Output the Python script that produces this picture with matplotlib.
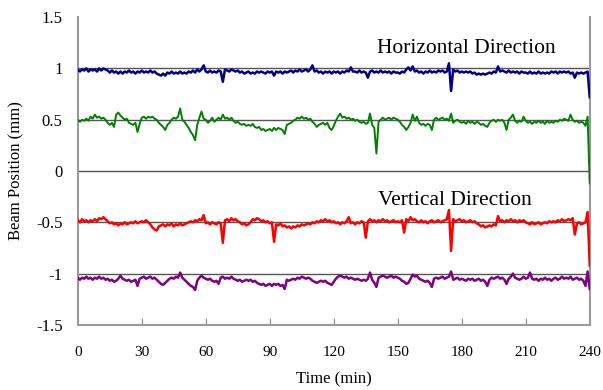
import numpy as np
import matplotlib
matplotlib.use("Agg")
import matplotlib.pyplot as plt

plt.rcParams['font.family'] = ['Liberation Serif', 'DejaVu Serif']

# time axis: one reading per minute, 0..240 min
time_min = np.arange(0, 241)

# horizontal direction, upper trace (~1 mm)
horiz_upper = [
    0.99, 0.97, 0.99, 0.98, 1.00, 0.97, 0.99, 0.98, 0.99, 0.97,
    1.00, 0.98, 1.00, 0.99, 0.98, 0.96, 0.98, 0.96, 0.97, 0.95,
    0.97, 0.95, 0.97, 0.96, 0.98, 0.96, 0.97, 0.95, 0.97, 0.96,
    0.98, 0.96, 0.97, 0.96, 0.98, 0.96, 0.97, 0.95, 0.94, 0.93,
    0.95, 0.93, 0.96, 0.95, 0.97, 0.95, 0.96, 0.95, 0.97, 0.95,
    0.96, 0.95, 0.97, 0.96, 0.98, 0.96, 0.99, 0.97, 0.99, 1.03,
    0.97, 0.96, 0.98, 0.96, 0.97, 0.96, 0.98, 0.97, 0.87, 0.99,
    0.98, 0.97, 0.99, 0.98, 0.97, 0.98, 0.96, 0.97, 0.95, 0.96,
    0.97, 0.95, 0.96, 0.95, 0.97, 0.96, 0.97, 0.96, 0.95, 0.97,
    0.96, 0.97, 0.93, 0.97, 0.96, 0.97, 0.95, 0.97, 0.96, 0.97,
    0.98, 0.96, 0.98, 0.97, 0.99, 0.97, 0.98, 0.99, 0.97, 0.99,
    1.03, 0.97, 0.98, 0.96, 0.97, 0.95, 0.97, 0.96, 0.97, 0.95,
    0.97, 0.96, 0.97, 0.95, 0.97, 0.96, 0.98, 0.97, 1.01, 0.97,
    0.97, 0.96, 0.98, 0.96, 0.97, 0.96, 0.91, 0.97, 0.98, 0.96,
    0.97, 0.96, 0.98, 0.96, 0.97, 0.96, 0.97, 0.95, 0.97, 0.96,
    0.96, 0.95, 0.97, 0.96, 0.99, 1.01, 0.98, 1.02, 0.97, 0.98,
    0.96, 0.97, 0.95, 0.97, 0.96, 0.98, 0.96, 0.97, 0.96, 0.98,
    0.97, 0.98, 0.96, 0.97, 1.05, 0.78, 0.99, 0.97, 0.98, 0.96,
    0.97, 0.96, 0.97, 0.96, 0.97, 0.95, 0.96, 0.94, 0.95, 0.94,
    0.95, 0.94, 0.95, 0.96, 0.95, 0.97, 0.96, 1.02, 0.97, 0.98,
    0.97, 0.96, 0.98, 0.96, 0.97, 0.96, 0.97, 0.95, 0.97, 0.96,
    0.96, 0.95, 0.97, 0.95, 0.96, 0.95, 0.97, 0.95, 0.96, 0.95,
    0.96, 0.95, 0.97, 0.96, 0.97, 0.95, 0.97, 0.96, 0.97, 0.96,
    0.97, 0.95, 0.96, 0.91, 0.96, 0.95, 0.96, 0.95, 0.96, 0.97,
    0.72,
]

# horizontal direction, lower trace (~0.5 mm)
horiz_lower = [
    0.50, 0.48, 0.50, 0.49, 0.51, 0.49, 0.53, 0.51, 0.55, 0.52,
    0.53, 0.51, 0.52, 0.50, 0.47, 0.45, 0.47, 0.43, 0.55, 0.57,
    0.54, 0.52, 0.50, 0.51, 0.47, 0.46, 0.45, 0.47, 0.38, 0.46,
    0.52, 0.53, 0.51, 0.53, 0.52, 0.53, 0.51, 0.50, 0.47, 0.45,
    0.43, 0.40, 0.45, 0.47, 0.50, 0.52, 0.51, 0.53, 0.61, 0.50,
    0.48, 0.45, 0.42, 0.38, 0.35, 0.30, 0.45, 0.52, 0.58, 0.51,
    0.50, 0.47, 0.49, 0.52, 0.48, 0.50, 0.52, 0.50, 0.55, 0.51,
    0.52, 0.50, 0.52, 0.49, 0.47, 0.48, 0.46, 0.45, 0.46, 0.44,
    0.45, 0.44, 0.46, 0.43, 0.42, 0.43, 0.40, 0.41, 0.39, 0.40,
    0.41, 0.39, 0.42, 0.40, 0.42, 0.41, 0.40, 0.36, 0.45, 0.46,
    0.47, 0.49, 0.50, 0.52, 0.51, 0.53, 0.51, 0.52, 0.50, 0.51,
    0.48, 0.46, 0.43, 0.45, 0.46, 0.47, 0.45, 0.47, 0.42, 0.40,
    0.44, 0.49, 0.53, 0.56, 0.52, 0.53, 0.51, 0.52, 0.50, 0.51,
    0.49, 0.50, 0.48, 0.47, 0.48, 0.46, 0.47, 0.56, 0.45, 0.42,
    0.17, 0.48, 0.50, 0.52, 0.50, 0.51, 0.52, 0.50, 0.52, 0.51,
    0.50, 0.48, 0.45, 0.43, 0.40, 0.43, 0.47, 0.55, 0.49, 0.53,
    0.47, 0.45, 0.46, 0.44, 0.46, 0.45, 0.40, 0.50, 0.52, 0.50,
    0.51, 0.52, 0.50, 0.51, 0.49, 0.56, 0.47, 0.49, 0.50, 0.48,
    0.47, 0.48, 0.46, 0.49, 0.47, 0.48, 0.46, 0.48, 0.47, 0.45,
    0.46, 0.44, 0.43, 0.47, 0.49, 0.50, 0.48, 0.50, 0.49, 0.50,
    0.47, 0.40, 0.50, 0.52, 0.55, 0.49, 0.47, 0.49, 0.48, 0.53,
    0.49, 0.47, 0.48, 0.46, 0.48, 0.47, 0.49, 0.47, 0.48, 0.46,
    0.49, 0.47, 0.48, 0.47, 0.49, 0.48, 0.50, 0.49, 0.51, 0.50,
    0.49, 0.55, 0.50, 0.48, 0.49, 0.47, 0.48, 0.47, 0.44, 0.53,
    -0.12,
]

# vertical direction, upper trace (~-0.5 mm)
vert_upper = [
    -0.48, -0.50, -0.47, -0.49, -0.48, -0.50, -0.48, -0.49, -0.47, -0.49,
    -0.46, -0.47, -0.45, -0.47, -0.49, -0.51, -0.50, -0.52, -0.51, -0.53,
    -0.51, -0.52, -0.50, -0.52, -0.51, -0.50, -0.51, -0.49, -0.51, -0.50,
    -0.49, -0.50, -0.48, -0.50, -0.52, -0.55, -0.57, -0.58, -0.54, -0.53,
    -0.52, -0.54, -0.52, -0.53, -0.51, -0.54, -0.52, -0.53, -0.51, -0.53,
    -0.52, -0.51, -0.50, -0.49, -0.50, -0.48, -0.49, -0.47, -0.48, -0.43,
    -0.51, -0.50, -0.52, -0.50, -0.51, -0.52, -0.50, -0.51, -0.70, -0.48,
    -0.47, -0.49, -0.46, -0.48, -0.47, -0.49, -0.50, -0.52, -0.51, -0.53,
    -0.52, -0.50, -0.47, -0.48, -0.46, -0.47, -0.49, -0.48, -0.50, -0.49,
    -0.51, -0.50, -0.69, -0.52, -0.53, -0.51, -0.54, -0.53, -0.55, -0.54,
    -0.56, -0.54, -0.55, -0.53, -0.54, -0.52, -0.53, -0.52, -0.51, -0.52,
    -0.50, -0.51, -0.49, -0.50, -0.48, -0.49, -0.47, -0.49, -0.48, -0.50,
    -0.49, -0.51, -0.50, -0.52, -0.50, -0.51, -0.49, -0.45, -0.51, -0.50,
    -0.52, -0.50, -0.51, -0.49, -0.50, -0.65, -0.49, -0.47, -0.49, -0.48,
    -0.50, -0.48, -0.49, -0.47, -0.49, -0.48, -0.50, -0.49, -0.48, -0.50,
    -0.49, -0.50, -0.48, -0.60, -0.47, -0.49, -0.45, -0.48, -0.47, -0.49,
    -0.50, -0.48, -0.50, -0.49, -0.51, -0.49, -0.48, -0.50, -0.49, -0.48,
    -0.50, -0.49, -0.48, -0.47, -0.38, -0.78, -0.47, -0.49, -0.48, -0.47,
    -0.49, -0.48, -0.50, -0.49, -0.48, -0.50, -0.49, -0.51, -0.52, -0.54,
    -0.53, -0.55, -0.54, -0.53, -0.54, -0.52, -0.53, -0.44, -0.49, -0.48,
    -0.50, -0.48, -0.49, -0.47, -0.49, -0.48, -0.50, -0.48, -0.49, -0.48,
    -0.50, -0.51, -0.52, -0.50, -0.52, -0.51, -0.50, -0.52, -0.51, -0.50,
    -0.51, -0.49, -0.50, -0.49, -0.50, -0.48, -0.49, -0.47, -0.49, -0.48,
    -0.47, -0.48, -0.46, -0.62, -0.51, -0.50, -0.52, -0.51, -0.50, -0.40,
    -0.92,
]

# vertical direction, lower trace (~-1.05 mm)
vert_lower = [
    -1.04, -1.06, -1.04, -1.05, -1.03, -1.05, -1.04, -1.06, -1.04, -1.05,
    -1.03, -1.05, -1.04, -1.06, -1.05, -1.07, -1.06, -1.08, -1.07, -1.05,
    -1.02, -1.05, -1.06, -1.07, -1.06, -1.08, -1.07, -1.06, -1.12, -1.05,
    -1.04, -1.03, -1.05, -1.04, -1.03, -1.05, -1.04, -1.06, -1.08, -1.10,
    -1.11, -1.09, -1.07, -1.05, -1.04, -1.05, -1.03, -1.04, -0.99, -1.04,
    -1.06, -1.08, -1.10, -1.12, -1.13, -1.16, -1.07, -1.04, -1.02, -1.04,
    -1.05, -1.06, -1.05, -1.07, -1.08, -1.07, -1.10, -1.04, -1.03, -1.05,
    -1.04, -1.05, -1.03, -1.05, -1.06, -1.07, -1.06, -1.08, -1.07, -1.06,
    -1.07, -1.06, -1.08, -1.07, -1.09, -1.10, -1.11, -1.10, -1.12, -1.11,
    -1.10, -1.12, -1.10, -1.11, -1.10, -1.12, -1.11, -1.15, -1.06, -1.07,
    -1.06, -1.05, -1.06, -1.04, -1.05, -1.03, -1.04, -1.05, -1.04, -1.05,
    -1.07, -1.08, -1.09, -1.08, -1.07, -1.08, -1.07, -1.09, -1.10, -1.11,
    -1.08, -1.05, -1.03, -1.02, -1.03, -1.04, -1.03, -1.05, -1.04, -1.05,
    -1.06, -1.05, -1.06, -1.07, -1.06, -1.07, -1.05, -0.99, -1.06, -1.09,
    -1.13, -1.04, -1.03, -1.02, -1.03, -1.04, -1.03, -1.02, -1.04, -1.03,
    -1.04, -1.05, -1.07, -1.08, -1.10, -1.09, -1.05, -1.01, -1.03, -1.02,
    -1.05, -1.06, -1.07, -1.08, -1.07, -1.09, -1.13, -1.05, -1.04, -1.05,
    -1.04, -1.03, -1.05, -1.04, -1.03, -0.98, -1.06, -1.05, -1.04, -1.06,
    -1.05, -1.06, -1.07, -1.05, -1.06, -1.05, -1.07, -1.06, -1.05, -1.07,
    -1.06, -1.08, -1.12, -1.06, -1.04, -1.05, -1.04, -1.03, -1.05, -1.04,
    -1.06, -1.10, -1.05, -1.03, -1.00, -1.04, -1.05, -1.06, -1.05, -1.03,
    -1.05, -1.04, -0.99, -1.05, -1.06, -1.05, -1.07, -1.05, -1.06, -1.04,
    -1.06, -1.05, -1.07, -1.05, -1.04, -1.06, -1.05, -1.03, -1.05, -1.04,
    -1.05, -1.03, -1.06, -1.05, -1.04, -1.06, -1.05, -1.07, -1.12, -0.98,
    -1.15,
]

xticks = [0, 30, 60, 90, 120, 150, 180, 210, 240]
yticks = [-1.5, -1, -0.5, 0, 0.5, 1, 1.5]
ytick_labels = ['-1.5', '-1', '-0.5', '0', '0.5', '1', '1.5']

fig = plt.figure(figsize=(6.03, 3.9), dpi=100)
ax = fig.add_axes([0.129, 0.167, 0.849, 0.789])

for lvl in yticks[1:-1]:
    ax.axhline(lvl, color='#555555', lw=1.0, zorder=1)

ax.plot(time_min, horiz_upper, color='#00008B', lw=1.8, zorder=3)
ax.plot(time_min, horiz_lower, color='#008000', lw=1.4, zorder=3)
ax.plot(time_min, vert_upper, color='#FF0000', lw=1.8, zorder=3)
ax.plot(time_min, vert_lower, color='#800080', lw=1.8, zorder=3)

ax.text(182, 1.19, 'Horizontal Direction', fontsize=15.5, ha='center', va='center')
ax.text(177, -0.29, 'Vertical Direction', fontsize=15.5, ha='center', va='center')

ax.set_xlim(0, 240)
ax.set_ylim(-1.5, 1.5)
ax.set_xticks(xticks)
ax.set_xticklabels([str(v) for v in xticks])
ax.set_yticks(yticks)
ax.set_yticklabels(ytick_labels)
ax.tick_params(axis='x', direction='in', length=5, color='#888888', labelsize=11, pad=15)
ax.tick_params(axis='y', length=0, labelsize=12, pad=11)

ax.spines['top'].set_visible(False)
for s in ['left', 'bottom', 'right']:
    ax.spines[s].set_color('#999999')
    ax.spines[s].set_linewidth(1.5)

ax.set_xlabel('Time (min)', fontsize=12, labelpad=9)
ax.set_ylabel('Beam Position (mm)', fontsize=12, labelpad=8)

plt.savefig('out.png', dpi=100)
